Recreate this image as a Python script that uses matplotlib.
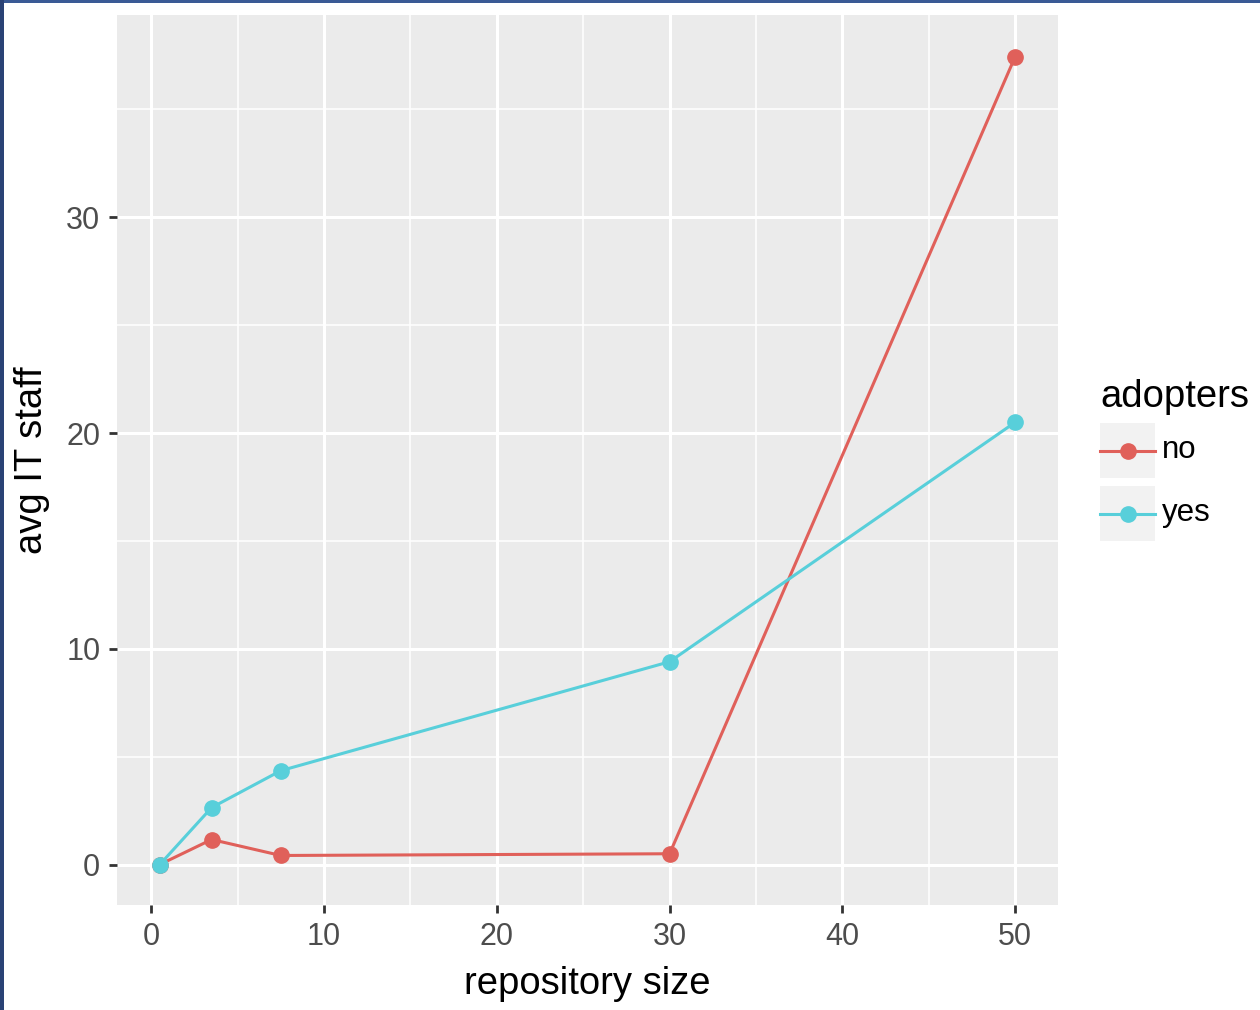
import matplotlib.pyplot as plt
from matplotlib.lines import Line2D
from matplotlib.patches import Rectangle

# data
repo_size = [0.5, 3.5, 7.5, 30, 50]
staff_no = [0.0, 1.16, 0.42, 0.5, 37.45]
staff_yes = [0.0, 2.64, 4.35, 9.4, 20.5]
groups = ["no", "yes"]
colors = ["#E0605A", "#58CFDA"]

plt.rcParams['font.family'] = ['Liberation Sans', 'DejaVu Sans']

W, H = 1260, 1010
fig = plt.figure(figsize=(W / 100, H / 100), dpi=100)
fig.patch.set_facecolor("white")

# panel: x 117..1058, y 15..905 (pixels)
ax = fig.add_axes([117 / W, 1 - 905 / H, (1058 - 117) / W, (905 - 15) / H])
ax.set_facecolor("#EBEBEB")

ax.plot(repo_size, staff_no, color=colors[0], lw=2.2, marker="o", ms=11, zorder=3)
ax.plot(repo_size, staff_yes, color=colors[1], lw=2.2, marker="o", ms=11, zorder=3)

ax.set_xlim(-1.975, 52.475)
ax.set_ylim(-1.875, 39.375)
ax.set_xticks([0, 10, 20, 30, 40, 50])
ax.set_yticks([0, 10, 20, 30])
ax.set_xticks([5, 15, 25, 35, 45], minor=True)
ax.set_yticks([5, 15, 25, 35], minor=True)
ax.grid(True, which="major", color="white", lw=2.2)
ax.grid(True, which="minor", color="white", lw=1.1)
ax.set_axisbelow(True)
for s in ax.spines.values():
    s.set_visible(False)
ax.tick_params(which="major", length=6, width=2, color="#333333",
               labelsize=22, labelcolor="#4D4D4D", pad=6)
ax.tick_params(which="minor", length=0)

ax.set_xlabel("repository size", fontsize=27.5, color="black", labelpad=10)
ax.set_ylabel("avg IT staff", fontsize=27.5, color="black", labelpad=12)

# legend drawn by hand in figure pixels
def fx(px):
    return px / W

def fy(py):
    return 1 - py / H

fig.text(fx(1100), fy(397), "adopters", fontsize=27.5, va="center", ha="left")
for i, (g, c) in enumerate(zip(groups, colors)):
    top = 423 + i * 63
    fig.patches.append(Rectangle((fx(1100), fy(top + 55)), 55 / W, 55 / H,
                                 transform=fig.transFigure, facecolor="#F2F2F2",
                                 edgecolor="none"))
    yc = fy(top + 27.5)
    fig.lines.append(Line2D([fx(1100), fx(1155)], [yc, yc], transform=fig.transFigure,
                            color=c, lw=2.2))
    fig.lines.append(Line2D([fx(1127.5)], [yc], transform=fig.transFigure,
                            color=c, marker="o", ms=11))
    fig.text(fx(1162), yc, g, fontsize=22.5, va="center", ha="left")

# slide frame on top and left edges
fig.patches.append(Rectangle((0, fy(3)), 1, 3 / H, transform=fig.transFigure,
                             facecolor="#3A5A95", edgecolor="none"))
fig.patches.append(Rectangle((0, 0), 4 / W, 1, transform=fig.transFigure,
                             facecolor="#2A4275", edgecolor="none"))

fig.savefig("out.png", dpi=100)
